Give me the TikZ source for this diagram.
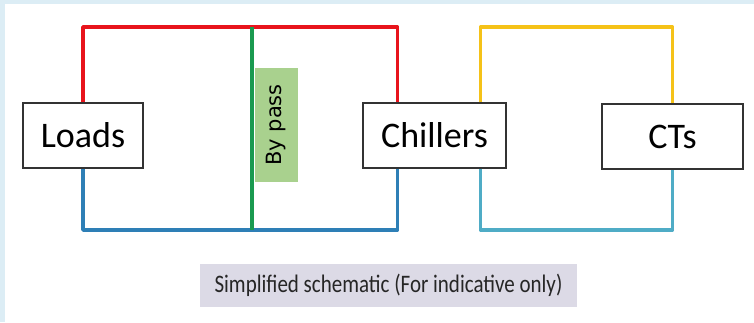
\documentclass[tikz,border=0pt]{standalone}
\usepackage{fontspec}
\setmainfont{Carlito}
\newfontfamily\bpfont{DejaVu Sans}
\definecolor{frameblue}{HTML}{DCEDF5}
\definecolor{supred}{HTML}{E8141C}
\definecolor{bpgreen}{HTML}{1A9A50}
\definecolor{retblue}{HTML}{2E7FB6}
\definecolor{cwcyan}{HTML}{4FACC6}
\definecolor{cwyellow}{HTML}{F5C218}
\definecolor{bpfill}{HTML}{A9D18E}
\definecolor{capfill}{HTML}{DCDAE6}
\definecolor{boxline}{HTML}{333333}
\tikzset{
  unitbox/.style={draw=boxline, line width=1.2pt, fill=white, inner sep=0pt, font=\fontsize{36}{40}\selectfont},
  pipe/.style={line width=3.4pt, line join=round},
}
\begin{document}
\begin{tikzpicture}[x=1pt,y=-1pt]
\useasboundingbox (0,0) rectangle (754,322);
\fill[frameblue] (0,0) rectangle (754,322);
\fill[white] (5,4) rectangle (754,322);
% nodes
\node[unitbox, minimum width=120pt, minimum height=65pt] (loads) at (83,135.5) {Loads};
\node[unitbox, minimum width=143pt, minimum height=65pt] (chillers) at (434.5,135.5) {Chillers};
\node[unitbox, minimum width=141pt, minimum height=65pt] (cts) at (672.5,136.5) {CTs};
\coordinate (gt) at (252,27);
\coordinate (gb) at (252,230);
\coordinate (cr) at ([xshift=35pt]chillers.north west);
\coordinate (cb) at ([xshift=35pt]chillers.south west);
\coordinate (cy) at ([xshift=-26pt]chillers.north east);
\coordinate (cc) at ([xshift=-26pt]chillers.south east);
% pipes
\draw[pipe, supred] (loads.north) -- (loads.north |- gt) -| (cr);
\draw[pipe, retblue] (loads.south) -- (loads.south |- gb) -| (cb);
\draw[pipe, cwyellow] (cy) -- (cy |- gt) -| (cts.north);
\draw[pipe, cwcyan] (cc) -- (cc |- gb) -| (cts.south);
\draw[pipe, bpgreen] (gt) -- (gb);
% bypass label
\node[fill=bpfill, minimum width=43pt, minimum height=114pt, inner sep=0pt] (bypass) at (276.5,125) {};
\node[rotate=90, font=\bpfont\fontsize{21}{24}\selectfont] (bptext) at (bypass.center) {By pass};
% caption
\node[fill=capfill, minimum width=377pt, minimum height=43pt, inner sep=0pt, font=\fontsize{21}{24}\selectfont, text=black!85] (caption) at (388.5,285.5) {\scalebox{1}[1.2]{Simplified schematic (For indicative only)}};
\end{tikzpicture}
\end{document}
